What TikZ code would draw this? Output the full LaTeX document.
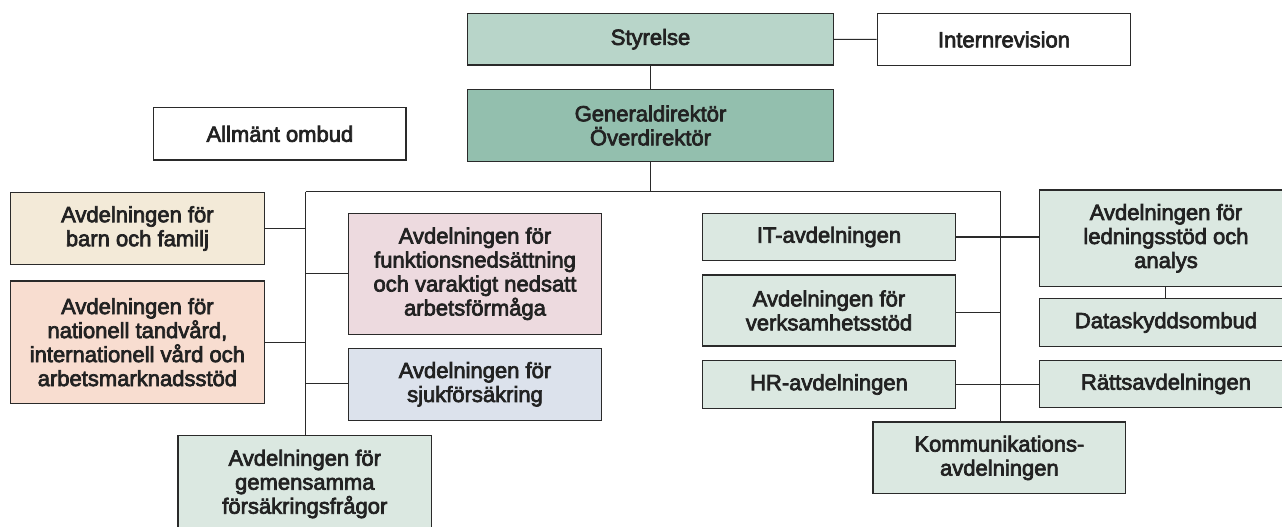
\documentclass[tikz,border=0pt]{standalone}
\usepackage{fontspec}
\setmainfont{Liberation Sans}
\definecolor{cSty}{HTML}{B8D5C9}
\definecolor{cGd}{HTML}{93BFAE}
\definecolor{cBarn}{HTML}{F3EAD8}
\definecolor{cNat}{HTML}{F8DDD0}
\definecolor{cFunk}{HTML}{EDDADF}
\definecolor{cSjuk}{HTML}{DCE2EC}
\definecolor{cLg}{HTML}{DBE8E1}
\definecolor{cLine}{HTML}{2A2A2A}
\definecolor{cText}{HTML}{222222}
\newcommand\medon{\special{pdf:literal direct 2 Tr 0.7 w}}
\newcommand\medoff{\special{pdf:literal direct 0 Tr}}
\begin{document}
\begin{tikzpicture}[x=1pt,y=-1pt,
  box/.style={draw=cLine, line width=1.3pt, inner sep=0pt, align=center,
    minimum width=253.5pt, text=cText,
    font=\fontsize{22}{24}\selectfont,
    execute at begin node=\medon, execute at end node=\medoff},
  conn/.style={draw=cLine, line width=1.2pt}]
\useasboundingbox (0,0) rectangle (1282,527);
\clip (0,0) rectangle (1282,527);
% top
\node[box, fill=cSty, minimum width=365.6pt, minimum height=51.7pt] (sty) at (650.5,39.2) {Styrelse};
\node[box, fill=white, minimum height=52.4pt] (intern) at (1004,39.5) {Internrevision};
\node[box, fill=cGd, minimum width=365.6pt, minimum height=72.4pt] (gd) at (650.5,125.5) {Generaldirektör\\Överdirektör};
\node[box, fill=white, minimum width=252.3pt, minimum height=52.3pt] (allm) at (279.9,133.9) {Allmänt ombud};
% left
\node[box, fill=cBarn, minimum height=71.6pt] (barn) at (137.4,228.5) {Avdelningen för\\barn och familj};
\node[box, fill=cNat, minimum height=122.3pt] (nat) at (137.4,342.2) {Avdelningen för\\nationell tandvård,\\internationell vård och\\arbetsmarknadsstöd};
\node[box, fill=cFunk, minimum height=121pt] (funk) at (475,273.8) {Avdelningen för\\funktionsnedsättning\\och varaktigt nedsatt\\arbetsförmåga};
\node[box, fill=cSjuk, minimum height=72pt] (sjuk) at (475,384.3) {Avdelningen för\\sjukförsäkring};
\node[box, fill=cLg, minimum height=96.7pt] (gem) at (304.8,484) {Avdelningen för\\gemensamma\\försäkringsfrågor};
% right
\node[box, fill=cLg, minimum height=47.4pt] (it) at (829,237) {IT-avdelningen};
\node[box, fill=cLg, minimum height=71pt] (verk) at (829,310.5) {Avdelningen för\\verksamhetsstöd};
\node[box, fill=cLg, minimum height=47.6pt] (hr) at (829,384.5) {HR-avdelningen};
\node[box, fill=cLg, minimum height=96.7pt] (led) at (1166,238.3) {Avdelningen för\\ledningsstöd och\\analys};
\node[box, fill=cLg, minimum height=48.4pt] (data) at (1166,322.5) {Dataskyddsombud};
\node[box, fill=cLg, minimum height=47pt] (ratt) at (1166,384) {Rättsavdelningen};
\node[box, fill=cLg, minimum width=252.7pt, minimum height=71.7pt] (komm) at (999.4,457.9) {Kommunikations-\\avdelningen};
% bus
\coordinate (busL) at (305.5,191.7);
\coordinate (busR) at (1000.5,191.7);
\coordinate (busM) at (650.5,191.7);
\draw[conn] (sty) -- (gd);
\draw[conn] (sty) -- (intern);
\draw[conn] (gd.south) -- (busM);
\draw[conn] (busL) -- (busR);
\draw[conn] (busL) -- (busL |- gem.north);
\draw[conn] (busR) -- (busR |- komm.north);
% left branches
\draw[conn] (barn.east) -- (barn.east -| busL);
\draw[conn] ([yshift=0.5pt]funk.west) -- ([yshift=0.5pt]funk.west -| busL);
\draw[conn] (nat.east) -- (nat.east -| busL);
\draw[conn] ([yshift=1pt]sjuk.west) -- ([yshift=1pt]sjuk.west -| busL);
% right branches
\draw[conn] (it.east) -- (it.east -| led.west);
\draw[conn] ([yshift=-1.8pt]verk.east) -- ([yshift=-1.8pt]verk.east -| busR);
\draw[conn] (hr.east) -- (hr.east -| ratt.west);
\draw[conn] ([xshift=-0.7pt]led.south) -- ([xshift=-0.7pt]data.north);
\end{tikzpicture}
\end{document}
